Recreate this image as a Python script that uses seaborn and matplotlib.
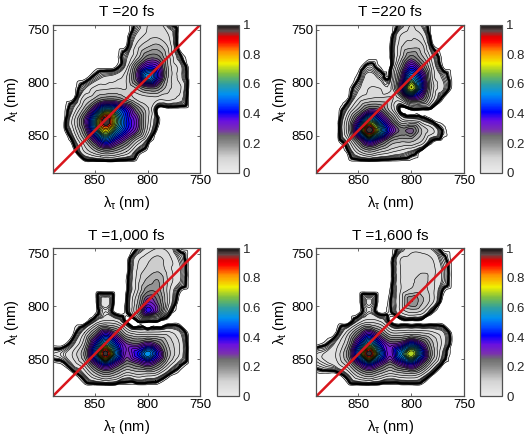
import numpy as np
import matplotlib
matplotlib.use("Agg")
import matplotlib.pyplot as plt
import matplotlib.tri as mtri
from matplotlib.colors import LinearSegmentedColormap, Normalize
from matplotlib.cm import ScalarMappable
import seaborn as sns

# wavelength grid, one node every 10 nm
lambda_tau = [890, 880, 870, 860, 850, 840, 830, 820, 810, 800, 790, 780, 770, 760, 750]
lambda_t = [745, 755, 765, 775, 785, 795, 805, 815, 825, 835, 845, 855, 865, 875, 885]

# amplitudes in percent of the maximum, rows follow lambda_t
t20 = [
    [0, 0, 0, 0, 0, 0, 0, 0, 2, 6, 8, 2, 0, 0, 0],
    [0, 0, 0, 0, 0, 0, 0, 0, 4, 7, 8, 6, 0, 0, 0],
    [0, 0, 0, 0, 0, 0, 0, .5, 7, 12, 14, 8, 0, 0, 0],
    [0, 0, 0, 0, 0, 0, 0, 3, 10, 22, 22, 10, 2, 0, 0],
    [0, 0, 0, 0, 0, 0, .5, 5, 24, 38, 34, 12, 5, 0, 0],
    [0, 0, 0, 0, 2, 4, 5, 9, 28, 55, 38, 12, 5, 0, 0],
    [0, 0, 0, 3, 7, 8, 9, 9, 14, 22, 20, 10, 7, 0, 0],
    [0, 0, .5, 8, 14, 20, 20, 14, 8, 7, 7, 7, 5, 0, 0],
    [0, 0, 4, 15, 35, 55, 50, 38, 22, 10, 0, 0, 0, 0, 0],
    [0, 0, 8, 27, 55, 97, 65, 43, 30, 10, 1, 0, 0, 0, 0],
    [0, 0, 6, 22, 50, 75, 55, 40, 28, 8, 0, 0, 0, 0, 0],
    [0, 0, 2, 12, 30, 45, 35, 24, 10, 2, 0, 0, 0, 0, 0],
    [0, 0, 0, 6, 12, 18, 15, 9, 2, 0, 0, 0, 0, 0, 0],
    [0, 0, 0, 0, 0, 0, 0, 0, 0, 0, 0, 0, 0, 0, 0],
    [0, 0, 0, 0, 0, 0, 0, 0, 0, 0, 0, 0, 0, 0, 0],
]
t220 = [
    [0, 0, 0, 0, 0, 0, 0, 0, 2, 6, 3, 0, 0, 0, 0],
    [0, 0, 0, 0, 0, 0, 0, 0, 6, 8, 6, 0, 0, 0, 0],
    [0, 0, 0, 0, 0, 0, 0, .5, 8, 11, 10, 1, 0, 0, 0],
    [0, 0, 0, 0, 0, 0, 0, .5, 10, 22, 14, 4, 0, 0, 0],
    [0, 0, 0, 0, 0, 2, .5, .5, 18, 38, 25, 7, .5, 0, 0],
    [0, 0, 0, 0, 1, 5, 3, 2, 26, 55, 38, 9, 3, 0, 0],
    [0, 0, 0, 0, 3, 6, 6, 5, 32, 72, 42, 11, 4, 0, 0],
    [0, 0, 0, .5, 6, 9, 10, 10, 10, 30, 26, 8, .5, 0, 0],
    [0, 0, 0, 4, 14, 26, 24, 11, 0, 1, 1, 0, 0, 0, 0],
    [0, 0, 0, 10, 32, 58, 42, 25, 8, 5, 3, .5, 0, 0, 0],
    [0, 0, 0, 12, 45, 97, 60, 36, 24, 27, 13, 7, 1, 0, 0],
    [0, 0, 0, 5, 22, 40, 30, 18, 14, 14, 9, 1, 0, 0, 0],
    [0, 0, 0, 1, 8, 14, 10, 7, 5, 3, 0, 0, 0, 0, 0],
    [0, 0, 0, 0, 0, 0, 0, 0, 0, 0, 0, 0, 0, 0, 0],
    [0, 0, 0, 0, 0, 0, 0, 0, 0, 0, 0, 0, 0, 0, 0],
]
t1000 = [
    [0, 0, 0, 0, 0, 0, 0, 0, 1, 4, 6, 5, .5, 0, 0],
    [0, 0, 0, 0, 0, 0, 0, 0, 5, 8, 10, 7, 3, 0, 0],
    [0, 0, 0, 0, 0, 0, 0, 0, 6, 10, 12, 7, 4, 0, 0],
    [0, 0, 0, 0, 0, 0, 0, .5, 7, 14, 17, 8, 4, 0, 0],
    [0, 0, 0, 0, 0, 0, 0, .5, 8, 20, 19, 7, 1, 0, 0],
    [0, 0, 0, 0, 0, 5, 0, 1, 12, 30, 24, 7, 0, 0, 0],
    [0, 0, 0, 0, 0, 3, 0, 1, 14, 38, 26, 3, 0, 0, 0],
    [0, 0, 0, 0, 4, 8, 7, 1, 0, 0, 0, 0, 0, 0, 0],
    [0, 0, .5, 6, 20, 35, 25, 11, 7, 7, 7, 7, 4, 0, 0],
    [0, 0, 3, 12, 38, 58, 42, 28, 25, 30, 24, 12, 6, 0, 0],
    [2, 3, 7, 18, 48, 95, 52, 30, 40, 55, 38, 15, 6, 0, 0],
    [0, .5, 4, 10, 27, 40, 30, 20, 24, 30, 22, 8, 2, 0, 0],
    [0, 0, 0, 3, 10, 16, 12, 6, 8, 7, 5, 1, 0, 0, 0],
    [0, 0, 0, 0, 0, 0, 0, 0, 0, 0, 0, 0, 0, 0, 0],
    [0, 0, 0, 0, 0, 0, 0, 0, 0, 0, 0, 0, 0, 0, 0],
]
t1600 = [
    [0, 0, 0, 0, 0, 0, 0, 0, 2, 5, 5, 3, 0, 0, 0],
    [0, 0, 0, 0, 0, 0, 0, 0, 6, 7, 7, 6, 2, 0, 0],
    [0, 0, 0, 0, 0, 0, 0, 0, 6, 7, 8, 7, 3, 0, 0],
    [0, 0, 0, 0, 0, 0, 0, 0, 6, 8, 11, 7, 3, 0, 0],
    [0, 0, 0, 0, 0, 0, 0, .5, 6, 10, 11, 7, 1, 0, 0],
    [0, 0, 0, 0, 0, 4, 0, 1, 7, 21, 14, 7, 0, 0, 0],
    [0, 0, 0, 0, 0, 3, 0, 1, 6, 10, 8, 1, 0, 0, 0],
    [0, 0, 0, 0, 5, 9, 7, 1, 0, 0, 0, 0, 0, 0, 0],
    [0, 0, 1, 8, 22, 34, 22, 10, 9, 10, 9, 7, 4, 0, 0],
    [0, 1, 5, 14, 38, 58, 40, 28, 30, 42, 30, 14, 5, 0, 0],
    [3, 4, 7, 20, 50, 95, 52, 32, 52, 72, 45, 17, 3, 0, 0],
    [2, 3, 5, 12, 28, 40, 30, 21, 30, 38, 25, 8, .5, 0, 0],
    [0, 0, 0, 3, 11, 16, 11, 7, 9, 10, 6, .5, 0, 0, 0],
    [0, 0, 0, 0, 0, 0, 0, 0, 0, 0, 0, 0, 0, 0, 0],
    [0, 0, 0, 0, 0, 0, 0, 0, 0, 0, 0, 0, 0, 0, 0],
]
titles = ["T =20 fs", "T =220 fs", "T =1,000 fs", "T =1,600 fs"]
panels = [t20, t220, t1000, t1600]
ylabel_pads = [5, 1.5, 5, 2]
ticks = [850, 800, 750]
cbar_ticks = [0, 0.2, 0.4, 0.6, 0.8, 1]
cbar_labels = ["0", "0.2", "0.4", "0.6", "0.8", "1"]

# contour levels, packed near zero to get the thick black rim
levels = [0.004, 0.008, 0.012, 0.016, 0.02, 0.025, 0.03, 0.035, 0.06, 0.09, 0.13, 0.17, 0.21, 0.25,
          0.28, 0.31, 0.34, 0.37, 0.40, 0.43, 0.46, 0.49, 0.52, 0.55, 0.58, 0.61, 0.64, 0.68, 0.72, 0.76,
          0.80, 0.85, 0.90, 1.05]
rim_levels = [0.012]

cmap_colors = [(0.0, "#ececec"), (0.10, "#d4d4d4"), (0.20, "#8a8a8a"), (0.25, "#6e6e6e"), (0.29, "#7a30b0"),
               (0.35, "#6a10e0"), (0.41, "#0000ff"), (0.47, "#0050ff"), (0.53, "#0090f0"), (0.60, "#30a0a0"),
               (0.67, "#80c040"), (0.74, "#f0f000"), (0.82, "#ff9000"), (0.89, "#ff0000"), (0.92, "#e00000"),
               (0.96, "#604848"), (1.0, "#101010")]
spec = LinearSegmentedColormap.from_list("spec", cmap_colors)

positions = [(52.7, 24.7, 217.0), (316.3, 24.7, 480.3), (52.7, 248.3, 217.0), (316.3, 248.3, 480.3)]
W, H = 526, 440
edge = "#505050"

sns.set_theme(style="ticks")
plt.rcParams["font.family"] = ["Liberation Sans", "DejaVu Sans"]
plt.rcParams["mathtext.fontset"] = "custom"
plt.rcParams["mathtext.rm"] = "Liberation Sans"
plt.rcParams["mathtext.it"] = "Liberation Sans"

fig = plt.figure(figsize=(W / 100, H / 100), dpi=100)
xx, yy = np.meshgrid(lambda_tau, lambda_t)
tri = mtri.Triangulation(xx.ravel().astype(float), yy.ravel().astype(float))
refiner = mtri.UniformTriRefiner(tri)
for title, values, ypad, (left, top, cleft) in zip(titles, panels, ylabel_pads, positions):
    ax = fig.add_axes([left / W, 1 - (top + 148) / H, 147.6 / W, 148 / H])
    z = np.array(values, dtype=float).ravel() / 100
    interp = mtri.CubicTriInterpolator(tri, z, kind="geom")
    fine_tri, fine_z = refiner.refine_field(z, triinterpolator=interp, subdiv=3)
    ax.tricontourf(fine_tri, fine_z, levels=levels, cmap=spec, vmin=0, vmax=1)
    ax.tricontour(fine_tri, fine_z, levels=levels, colors="black", linewidths=0.45)
    ax.tricontour(fine_tri, fine_z, levels=rim_levels, colors="black", linewidths=1.7)
    ax.plot([lambda_tau[0], lambda_tau[-1]], [lambda_t[-1], lambda_t[0]], color="#d9161c", lw=1.8)
    ax.set_xlim(890, 750)
    ax.set_ylim(885, 745)
    ax.set_xticks(ticks)
    ax.set_yticks(ticks)
    ax.tick_params(direction="in", length=2, width=0.6, color=edge, labelsize=9.5, pad=2, top=True, right=True,
                   labelcolor="black")
    ax.set_title(title, fontsize=11, pad=6, color="black")
    ax.set_xlabel(r"$\lambda_{\tau}$ (nm)", fontsize=10.5, labelpad=5, color="black")
    ax.set_ylabel(r"$\lambda_{\mathrm{t}}$ (nm)", fontsize=10.5, labelpad=ypad, color="black")
    for s in ax.spines.values():
        s.set_color(edge)
        s.set_linewidth(0.9)

    cax = fig.add_axes([cleft / W, 1 - (top + 148) / H, 21.7 / W, 148 / H])
    cb = fig.colorbar(ScalarMappable(Normalize(0, 1), spec), cax=cax)
    cb.set_ticks(cbar_ticks)
    cb.set_ticklabels(cbar_labels)
    cb.ax.tick_params(direction="in", length=2, width=0.6, color=edge, labelsize=9.5, pad=3, left=True, right=True)
    cb.outline.set_edgecolor(edge)
    cb.outline.set_linewidth(0.9)

fig.savefig("out.png", dpi=100)
